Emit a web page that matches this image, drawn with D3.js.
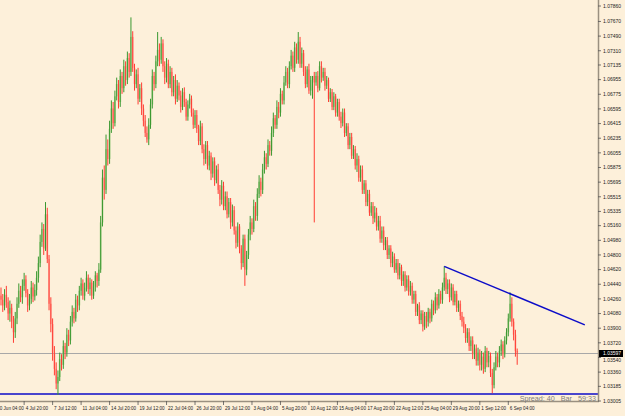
<!DOCTYPE html>
<html>
<head>
<meta charset="utf-8">
<script src="https://cdn.jsdelivr.net/npm/d3@7"></script>
<style>
  body { margin: 0; background: #fdf0da; }
  svg { display: block; }
  text { font-family: "Liberation Sans", Arial, sans-serif; }
</style>
</head>
<body>
<svg id="chart"></svg>
<script>
const width = 625;
const height = 416;
const plotRight = 598;
const plotBottom = 401;

// H4 bars, EURUSD-style quotes
const opens = [
  1.0430, 1.0425, 1.0418, 1.0431, 1.0422, 1.0408, 1.0415, 1.0398, 1.0385, 1.0402,
  1.0420, 1.0436, 1.0428, 1.0442, 1.0450, 1.0433, 1.0418, 1.0426, 1.0440, 1.0429,
  1.0437, 1.0452, 1.0470, 1.0496, 1.0512, 1.0488, 1.0530, 1.0475, 1.0420, 1.0395,
  1.0360, 1.0340, 1.0322, 1.0330, 1.0352, 1.0345, 1.0368, 1.0360, 1.0382, 1.0375,
  1.0398, 1.0410, 1.0402, 1.0425, 1.0418, 1.0436, 1.0445, 1.0430, 1.0440, 1.0452,
  1.0438, 1.0446, 1.0430, 1.0441, 1.0455, 1.0448, 1.0462, 1.0520, 1.0575, 1.0560,
  1.0610, 1.0598, 1.0635, 1.0660, 1.0642, 1.0675, 1.0690, 1.0668, 1.0700, 1.0685,
  1.0712, 1.0695, 1.0722, 1.0705, 1.0748, 1.0710, 1.0690, 1.0702, 1.0672, 1.0685,
  1.0660, 1.0645, 1.0630, 1.0622, 1.0640, 1.0665, 1.0700, 1.0690, 1.0718, 1.0732,
  1.0720, 1.0740, 1.0712, 1.0698, 1.0715, 1.0690, 1.0705, 1.0680, 1.0695, 1.0672,
  1.0688, 1.0676, 1.0662, 1.0680, 1.0668, 1.0650, 1.0665, 1.0672, 1.0655, 1.0640,
  1.0652, 1.0635, 1.0620, 1.0638, 1.0610, 1.0598, 1.0615, 1.0590, 1.0602, 1.0580,
  1.0595, 1.0572, 1.0585, 1.0560, 1.0548, 1.0565, 1.0540, 1.0552, 1.0530, 1.0545,
  1.0520, 1.0535, 1.0510, 1.0495, 1.0515, 1.0488, 1.0470, 1.0500, 1.0462, 1.0480,
  1.0505, 1.0520, 1.0512, 1.0540, 1.0528, 1.0555, 1.0570, 1.0560, 1.0585, 1.0600,
  1.0592, 1.0615, 1.0608, 1.0630, 1.0648, 1.0640, 1.0662, 1.0655, 1.0678, 1.0670,
  1.0692, 1.0705, 1.0690, 1.0712, 1.0725, 1.0710, 1.0735, 1.0720, 1.0742, 1.0715,
  1.0728, 1.0705, 1.0690, 1.0708, 1.0682, 1.0695, 1.0700, 1.0692, 1.0700, 1.0685,
  1.0712, 1.0698, 1.0705, 1.0688, 1.0695, 1.0672, 1.0680, 1.0662, 1.0675, 1.0655,
  1.0668, 1.0650, 1.0642, 1.0655, 1.0630, 1.0638, 1.0615, 1.0625, 1.0602, 1.0610,
  1.0590, 1.0598, 1.0575, 1.0585, 1.0560, 1.0568, 1.0545, 1.0555, 1.0532, 1.0540,
  1.0525, 1.0532, 1.0515, 1.0522, 1.0500, 1.0510, 1.0492, 1.0498, 1.0480, 1.0488,
  1.0470, 1.0478, 1.0462, 1.0470, 1.0455, 1.0465, 1.0448, 1.0456, 1.0440, 1.0450,
  1.0435, 1.0442, 1.0425, 1.0432, 1.0410, 1.0418, 1.0400, 1.0408, 1.0392, 1.0405,
  1.0398, 1.0410, 1.0402, 1.0420, 1.0412, 1.0428, 1.0418, 1.0432, 1.0425, 1.0440,
  1.0452, 1.0438, 1.0445, 1.0428, 1.0440, 1.0422, 1.0432, 1.0415, 1.0420, 1.0405,
  1.0398, 1.0390, 1.0378, 1.0385, 1.0368, 1.0375, 1.0358, 1.0365, 1.0350, 1.0360,
  1.0345, 1.0355, 1.0340, 1.0362, 1.0348, 1.0356, 1.0335, 1.0320, 1.0342, 1.0355,
  1.0348, 1.0362, 1.0370, 1.0358, 1.0375, 1.0385, 1.0402, 1.0420, 1.0398, 1.0382, 1.0362
];
const highs = [
  1.0440, 1.0432, 1.0438, 1.0442, 1.0428, 1.0424, 1.0420, 1.0405, 1.0410, 1.0428,
  1.0445, 1.0442, 1.0450, 1.0458, 1.0455, 1.0438, 1.0432, 1.0448, 1.0446, 1.0444,
  1.0460, 1.0478, 1.0505, 1.0520, 1.0518, 1.0545, 1.0538, 1.0480, 1.0428, 1.0402,
  1.0368, 1.0348, 1.0338, 1.0360, 1.0358, 1.0375, 1.0372, 1.0390, 1.0388, 1.0405,
  1.0418, 1.0415, 1.0432, 1.0430, 1.0442, 1.0452, 1.0450, 1.0446, 1.0460, 1.0456,
  1.0452, 1.0450, 1.0448, 1.0460, 1.0458, 1.0470, 1.0528, 1.0585, 1.0590, 1.0628,
  1.0622, 1.0645, 1.0670, 1.0668, 1.0682, 1.0698, 1.0695, 1.0708, 1.0705, 1.0720,
  1.0718, 1.0730, 1.0728, 1.0772, 1.0755, 1.0715, 1.0708, 1.0710, 1.0690, 1.0692,
  1.0665, 1.0652, 1.0638, 1.0648, 1.0672, 1.0708, 1.0705, 1.0725, 1.0754, 1.0740,
  1.0748, 1.0745, 1.0718, 1.0722, 1.0720, 1.0712, 1.0710, 1.0700, 1.0702, 1.0695,
  1.0692, 1.0682, 1.0685, 1.0686, 1.0672, 1.0670, 1.0678, 1.0676, 1.0660, 1.0658,
  1.0658, 1.0640, 1.0645, 1.0642, 1.0616, 1.0620, 1.0620, 1.0608, 1.0606, 1.0600,
  1.0600, 1.0590, 1.0592, 1.0566, 1.0572, 1.0570, 1.0558, 1.0558, 1.0550, 1.0550,
  1.0542, 1.0540, 1.0515, 1.0520, 1.0518, 1.0492, 1.0505, 1.0505, 1.0485, 1.0512,
  1.0528, 1.0525, 1.0548, 1.0545, 1.0562, 1.0578, 1.0575, 1.0592, 1.0608, 1.0605,
  1.0622, 1.0620, 1.0638, 1.0655, 1.0652, 1.0670, 1.0668, 1.0685, 1.0682, 1.0700,
  1.0712, 1.0710, 1.0718, 1.0732, 1.0730, 1.0742, 1.0740, 1.0754, 1.0748, 1.0735,
  1.0732, 1.0712, 1.0712, 1.0715, 1.0700, 1.0700, 1.0705, 1.0705, 1.0706, 1.0718,
  1.0718, 1.0710, 1.0710, 1.0700, 1.0698, 1.0685, 1.0684, 1.0680, 1.0678, 1.0672,
  1.0672, 1.0656, 1.0660, 1.0660, 1.0642, 1.0642, 1.0630, 1.0630, 1.0615, 1.0614,
  1.0605, 1.0602, 1.0590, 1.0590, 1.0572, 1.0572, 1.0560, 1.0560, 1.0545, 1.0545,
  1.0540, 1.0538, 1.0528, 1.0528, 1.0515, 1.0515, 1.0502, 1.0502, 1.0492, 1.0492,
  1.0484, 1.0482, 1.0475, 1.0475, 1.0470, 1.0468, 1.0460, 1.0460, 1.0455, 1.0455,
  1.0448, 1.0446, 1.0436, 1.0436, 1.0420, 1.0422, 1.0412, 1.0412, 1.0410, 1.0410,
  1.0415, 1.0414, 1.0425, 1.0424, 1.0434, 1.0432, 1.0438, 1.0436, 1.0446, 1.0466,
  1.0458, 1.0450, 1.0450, 1.0445, 1.0444, 1.0436, 1.0436, 1.0424, 1.0424, 1.0410,
  1.0404, 1.0395, 1.0390, 1.0390, 1.0380, 1.0380, 1.0370, 1.0370, 1.0366, 1.0364,
  1.0362, 1.0360, 1.0368, 1.0366, 1.0362, 1.0360, 1.0340, 1.0348, 1.0362, 1.0360,
  1.0368, 1.0376, 1.0374, 1.0380, 1.0390, 1.0408, 1.0434, 1.0428, 1.0402, 1.0388, 1.0365
];
const lows = [
  1.0418, 1.0410, 1.0412, 1.0415, 1.0400, 1.0398, 1.0390, 1.0372, 1.0378, 1.0395,
  1.0415, 1.0422, 1.0420, 1.0436, 1.0428, 1.0410, 1.0412, 1.0420, 1.0422, 1.0424,
  1.0430, 1.0446, 1.0465, 1.0490, 1.0480, 1.0485, 1.0470, 1.0412, 1.0385, 1.0350,
  1.0332, 1.0315, 1.0308, 1.0325, 1.0338, 1.0340, 1.0352, 1.0355, 1.0368, 1.0370,
  1.0392, 1.0396, 1.0398, 1.0410, 1.0412, 1.0430, 1.0425, 1.0424, 1.0435, 1.0432,
  1.0430, 1.0425, 1.0426, 1.0435, 1.0440, 1.0442, 1.0458, 1.0515, 1.0548, 1.0555,
  1.0590, 1.0592, 1.0630, 1.0635, 1.0638, 1.0670, 1.0660, 1.0662, 1.0678, 1.0680,
  1.0688, 1.0690, 1.0698, 1.0700, 1.0705, 1.0682, 1.0685, 1.0665, 1.0668, 1.0652,
  1.0638, 1.0625, 1.0618, 1.0615, 1.0635, 1.0660, 1.0682, 1.0685, 1.0712, 1.0712,
  1.0715, 1.0705, 1.0690, 1.0692, 1.0685, 1.0685, 1.0675, 1.0675, 1.0665, 1.0668,
  1.0670, 1.0655, 1.0658, 1.0662, 1.0645, 1.0645, 1.0660, 1.0650, 1.0635, 1.0636,
  1.0630, 1.0615, 1.0615, 1.0605, 1.0590, 1.0592, 1.0585, 1.0584, 1.0572, 1.0575,
  1.0565, 1.0568, 1.0555, 1.0540, 1.0542, 1.0535, 1.0535, 1.0525, 1.0526, 1.0512,
  1.0515, 1.0505, 1.0488, 1.0490, 1.0482, 1.0462, 1.0465, 1.0442, 1.0455, 1.0475,
  1.0498, 1.0505, 1.0508, 1.0522, 1.0522, 1.0550, 1.0552, 1.0555, 1.0580, 1.0585,
  1.0588, 1.0602, 1.0602, 1.0625, 1.0635, 1.0635, 1.0648, 1.0650, 1.0665, 1.0665,
  1.0688, 1.0685, 1.0685, 1.0708, 1.0705, 1.0705, 1.0715, 1.0715, 1.0710, 1.0710,
  1.0700, 1.0685, 1.0686, 1.0678, 1.0676, 1.0672, 1.0520, 1.0688, 1.0680, 1.0682,
  1.0692, 1.0694, 1.0682, 1.0684, 1.0668, 1.0668, 1.0658, 1.0658, 1.0650, 1.0650,
  1.0645, 1.0636, 1.0638, 1.0625, 1.0626, 1.0610, 1.0610, 1.0598, 1.0598, 1.0585,
  1.0582, 1.0570, 1.0570, 1.0555, 1.0555, 1.0540, 1.0540, 1.0528, 1.0528, 1.0518,
  1.0520, 1.0510, 1.0510, 1.0495, 1.0495, 1.0486, 1.0486, 1.0475, 1.0475, 1.0465,
  1.0465, 1.0458, 1.0458, 1.0450, 1.0450, 1.0442, 1.0442, 1.0435, 1.0436, 1.0430,
  1.0430, 1.0420, 1.0420, 1.0405, 1.0405, 1.0395, 1.0395, 1.0386, 1.0388, 1.0390,
  1.0392, 1.0396, 1.0398, 1.0406, 1.0408, 1.0412, 1.0414, 1.0420, 1.0420, 1.0436,
  1.0432, 1.0432, 1.0422, 1.0424, 1.0418, 1.0418, 1.0410, 1.0410, 1.0400, 1.0392,
  1.0384, 1.0372, 1.0372, 1.0362, 1.0362, 1.0352, 1.0352, 1.0344, 1.0344, 1.0338,
  1.0338, 1.0334, 1.0336, 1.0342, 1.0342, 1.0330, 1.0310, 1.0316, 1.0338, 1.0342,
  1.0342, 1.0356, 1.0352, 1.0354, 1.0370, 1.0380, 1.0398, 1.0392, 1.0375, 1.0355, 1.0345
];
const closes = [
  1.0425, 1.0418, 1.0431, 1.0422, 1.0408, 1.0415, 1.0398, 1.0385, 1.0402, 1.0420,
  1.0436, 1.0428, 1.0442, 1.0450, 1.0433, 1.0418, 1.0426, 1.0440, 1.0429, 1.0437,
  1.0452, 1.0470, 1.0496, 1.0512, 1.0488, 1.0530, 1.0475, 1.0420, 1.0395, 1.0360,
  1.0340, 1.0322, 1.0330, 1.0352, 1.0345, 1.0368, 1.0360, 1.0382, 1.0375, 1.0398,
  1.0410, 1.0402, 1.0425, 1.0418, 1.0436, 1.0445, 1.0430, 1.0440, 1.0452, 1.0438,
  1.0446, 1.0430, 1.0441, 1.0455, 1.0448, 1.0462, 1.0520, 1.0575, 1.0560, 1.0610,
  1.0598, 1.0635, 1.0660, 1.0642, 1.0675, 1.0690, 1.0668, 1.0700, 1.0685, 1.0712,
  1.0695, 1.0722, 1.0705, 1.0748, 1.0710, 1.0690, 1.0702, 1.0672, 1.0685, 1.0660,
  1.0645, 1.0630, 1.0622, 1.0640, 1.0665, 1.0700, 1.0690, 1.0718, 1.0732, 1.0720,
  1.0740, 1.0712, 1.0698, 1.0715, 1.0690, 1.0705, 1.0680, 1.0695, 1.0672, 1.0688,
  1.0676, 1.0662, 1.0680, 1.0668, 1.0650, 1.0665, 1.0672, 1.0655, 1.0640, 1.0652,
  1.0635, 1.0620, 1.0638, 1.0610, 1.0598, 1.0615, 1.0590, 1.0602, 1.0580, 1.0595,
  1.0572, 1.0585, 1.0560, 1.0548, 1.0565, 1.0540, 1.0552, 1.0530, 1.0545, 1.0520,
  1.0535, 1.0510, 1.0495, 1.0515, 1.0488, 1.0470, 1.0500, 1.0462, 1.0480, 1.0505,
  1.0520, 1.0512, 1.0540, 1.0528, 1.0555, 1.0570, 1.0560, 1.0585, 1.0600, 1.0592,
  1.0615, 1.0608, 1.0630, 1.0648, 1.0640, 1.0662, 1.0655, 1.0678, 1.0670, 1.0692,
  1.0705, 1.0690, 1.0712, 1.0725, 1.0710, 1.0735, 1.0720, 1.0742, 1.0715, 1.0728,
  1.0705, 1.0690, 1.0708, 1.0682, 1.0695, 1.0700, 1.0692, 1.0700, 1.0685, 1.0712,
  1.0698, 1.0705, 1.0688, 1.0695, 1.0672, 1.0680, 1.0662, 1.0675, 1.0655, 1.0668,
  1.0650, 1.0642, 1.0655, 1.0630, 1.0638, 1.0615, 1.0625, 1.0602, 1.0610, 1.0590,
  1.0598, 1.0575, 1.0585, 1.0560, 1.0568, 1.0545, 1.0555, 1.0532, 1.0540, 1.0525,
  1.0532, 1.0515, 1.0522, 1.0500, 1.0510, 1.0492, 1.0498, 1.0480, 1.0488, 1.0470,
  1.0478, 1.0462, 1.0470, 1.0455, 1.0465, 1.0448, 1.0456, 1.0440, 1.0450, 1.0435,
  1.0442, 1.0425, 1.0432, 1.0410, 1.0418, 1.0400, 1.0408, 1.0392, 1.0405, 1.0398,
  1.0410, 1.0402, 1.0420, 1.0412, 1.0428, 1.0418, 1.0432, 1.0425, 1.0440, 1.0452,
  1.0438, 1.0445, 1.0428, 1.0440, 1.0422, 1.0432, 1.0415, 1.0420, 1.0405, 1.0398,
  1.0390, 1.0378, 1.0385, 1.0368, 1.0375, 1.0358, 1.0365, 1.0350, 1.0360, 1.0345,
  1.0355, 1.0340, 1.0362, 1.0348, 1.0356, 1.0335, 1.0320, 1.0342, 1.0355, 1.0348,
  1.0362, 1.0370, 1.0358, 1.0375, 1.0385, 1.0402, 1.0420, 1.0398, 1.0382, 1.0362, 1.0360
];

const priceLabels = [
  "1.07860", "1.07670", "1.07490", "1.07310", "1.07135", "1.06955", "1.06775",
  "1.06595", "1.06415", "1.06235", "1.06055", "1.05875", "1.05695", "1.05515",
  "1.05335", "1.05160", "1.04980", "1.04800", "1.04620", "1.04440", "1.04260",
  "1.04080", "1.03900", "1.03720", "1.03540", "1.03360", "1.03185", "1.03005"
];

const dateLabels = [
  "30 Jun 04:00", "4 Jul 20:00", "7 Jul 12:00", "11 Jul 04:00", "14 Jul 20:00",
  "19 Jul 12:00", "22 Jul 04:00", "26 Jul 20:00", "29 Jul 12:00", "3 Aug 04:00",
  "5 Aug 20:00", "10 Aug 12:00", "15 Aug 04:00", "17 Aug 20:00", "22 Aug 12:00",
  "25 Aug 04:00", "29 Aug 20:00", "1 Sep 12:00", "6 Sep 04:00"
];
const dateBars = [-3, 13, 29, 45, 61, 77, 93, 109, 125, 141, 157, 173, 189, 205, 221, 237, 253, 269, 285];

const bidPrice = 1.03597;
const levelLine = 1.0309;
const trendBars = [249, 328];
const trendPrices = [1.0466, 1.0394];

const svg = d3.select("#chart").attr("width", width).attr("height", height);

const x = d3.scaleLinear().domain([0, closes.length - 1]).range([1, 517.2]);
const y = d3.scaleLinear().domain([1.03005, 1.0786]).range([401, 6]);

svg.append("rect").attr("width", width).attr("height", height).attr("fill", "#fdf0da");

// bid line
const by = Math.round(y(bidPrice)) + 0.5;
svg.append("line")
  .attr("x1", 0).attr("x2", plotRight)
  .attr("y1", by).attr("y2", by)
  .attr("stroke", "#a8a8a8").attr("stroke-width", 1);

// horizontal level
svg.append("line")
  .attr("x1", 0).attr("x2", plotRight)
  .attr("y1", y(levelLine)).attr("y2", y(levelLine))
  .attr("stroke", "#0c0cc8").attr("stroke-width", 1.5);

const bars = d3.range(closes.length).map(i => ({
  i, o: opens[i], h: highs[i], l: lows[i], c: closes[i]
}));

const candle = svg.append("g").selectAll("g").data(bars).enter().append("g");

candle.append("rect")
  .attr("x", d => x(d.i) - 0.9)
  .attr("width", 1.8)
  .attr("y", d => y(Math.max(d.o, d.c)))
  .attr("height", d => Math.max(0.8, Math.abs(y(d.o) - y(d.c))))
  .attr("fill", d => (d.c >= d.o ? "#a6d08a" : "#ffa398"))
  .attr("opacity", 0.9);

candle.append("line")
  .attr("x1", d => x(d.i)).attr("x2", d => x(d.i))
  .attr("y1", d => y(d.h)).attr("y2", d => y(d.l))
  .attr("stroke", d => (d.c >= d.o ? "#3a9830" : "#ff3c32"))
  .attr("stroke-width", 1);

// trendline
svg.append("line")
  .attr("x1", x(trendBars[0])).attr("y1", y(trendPrices[0]))
  .attr("x2", x(trendBars[1])).attr("y2", y(trendPrices[1]))
  .attr("stroke", "#0c0cc8").attr("stroke-width", 1.5);

// axes frame
svg.append("line")
  .attr("x1", plotRight + 0.5).attr("x2", plotRight + 0.5)
  .attr("y1", 0).attr("y2", plotBottom + 1)
  .attr("stroke", "#9a9080").attr("stroke-width", 1.5);
svg.append("line")
  .attr("x1", 0).attr("x2", plotRight + 1)
  .attr("y1", plotBottom + 0.5).attr("y2", plotBottom + 0.5)
  .attr("stroke", "#9a9080").attr("stroke-width", 1.5);

const yAxis = svg.append("g");
priceLabels.forEach(s => {
  const yy = y(+s);
  const ty = Math.abs(yy - by) < 6 ? (yy > by ? by + 7 : by - 7) : yy;
  yAxis.append("line")
    .attr("x1", plotRight).attr("x2", plotRight + 3)
    .attr("y1", yy).attr("y2", yy)
    .attr("stroke", "#555").attr("stroke-width", 0.8);
  yAxis.append("text")
    .attr("x", plotRight + 5).attr("y", ty + 1.8)
    .attr("font-size", 5).attr("fill", "#222")
    .text(s);
});

const xAxis = svg.append("g");
dateLabels.forEach((s, k) => {
  const xx = x(dateBars[k]);
  xAxis.append("line")
    .attr("x1", xx).attr("x2", xx)
    .attr("y1", plotBottom).attr("y2", plotBottom + 4)
    .attr("stroke", "#555").attr("stroke-width", 0.8);
  xAxis.append("text")
    .attr("x", xx + 1.5).attr("y", plotBottom + 9)
    .attr("font-size", 4.6).attr("fill", "#222")
    .text(s);
});

// current price box
svg.append("rect")
  .attr("x", plotRight + 1).attr("y", by - 3.5)
  .attr("width", 24).attr("height", 7)
  .attr("fill", "#000");
svg.append("text")
  .attr("x", plotRight + 5).attr("y", by + 1.8)
  .attr("font-size", 5).attr("fill", "#fff")
  .text(bidPrice.toFixed(5));

svg.append("text")
  .attr("x", plotRight - 2).attr("y", plotBottom - 0.5)
  .attr("text-anchor", "end")
  .attr("font-size", 7.2).attr("fill", "#7d7d7d")
  .attr("xml:space", "preserve")
  .text("Spread: 40   Bar   59:33");
</script>
</body>
</html>
